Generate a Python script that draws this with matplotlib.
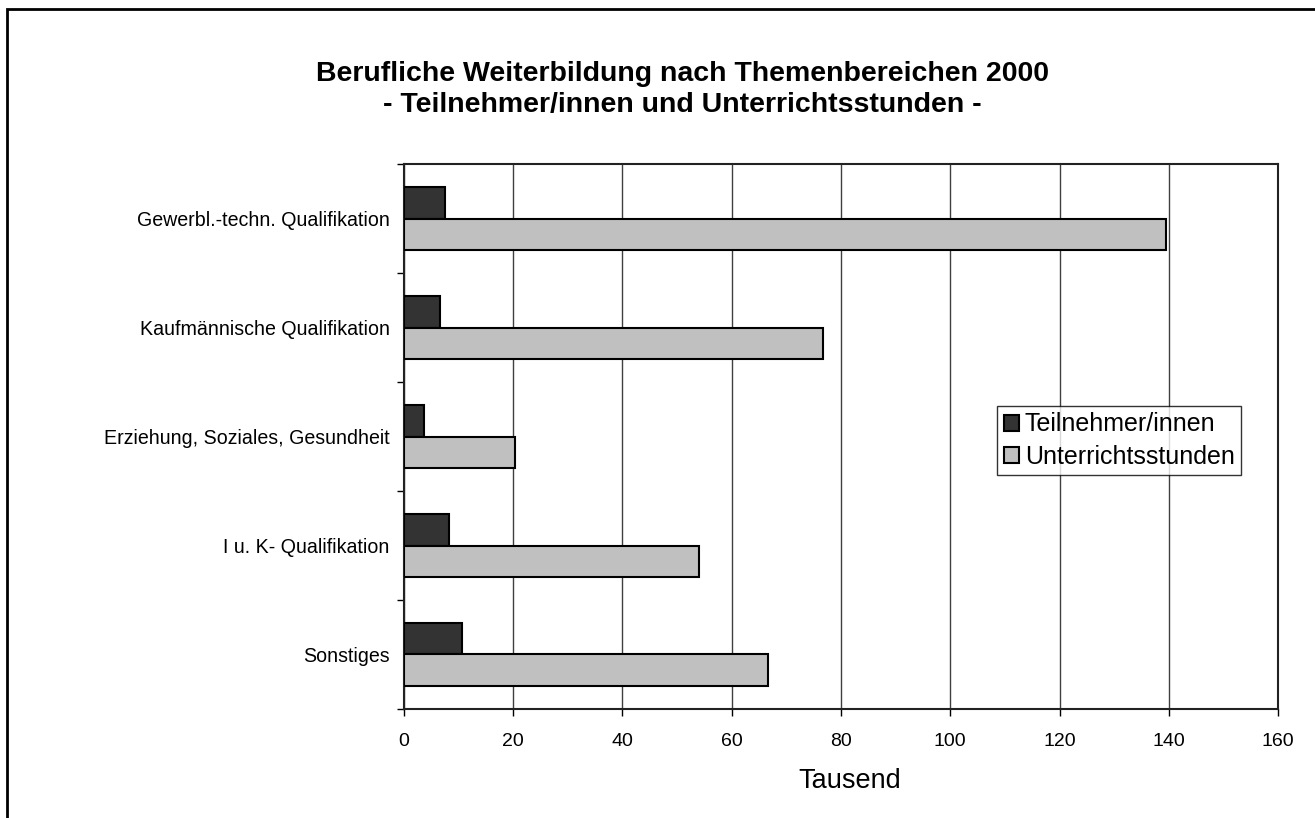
"""Berufliche Weiterbildung nach Themenbereichen 2000 - horizontal bar chart"""
import numpy as np
import matplotlib
matplotlib.use("Agg")
import matplotlib.pyplot as plt
from matplotlib.patches import Rectangle

plt.rcParams['font.family'] = ['Liberation Sans', 'DejaVu Sans']

# data (Tausend), top to bottom
categories = ["Gewerbl.-techn. Qualifikation", "Kaufmännische Qualifikation",
              "Erziehung, Soziales, Gesundheit", "I u. K- Qualifikation", "Sonstiges"]
teilnehmer = [7.5, 6.7, 3.8, 8.3, 10.6]
stunden = [139.5, 76.8, 20.4, 54.1, 66.7]
xticks = [0, 20, 40, 60, 80, 100, 120, 140, 160]

fig = plt.figure(figsize=(13.15, 8.18), dpi=100)
ax = fig.add_axes([0.307, 0.1333, 0.665, 0.666])

# outer frame of the figure
fig.patches.append(Rectangle((7 / 1315, -0.1), 1.2, 1 - 9 / 818 + 0.1, transform=fig.transFigure,
                             fill=False, edgecolor="black", linewidth=2))

y = np.arange(len(categories))
h = 0.29
ax.barh(y - h / 2, teilnehmer, height=h, color="#333333", edgecolor="black", linewidth=1.5,
        label="Teilnehmer/innen", zorder=3)
ax.barh(y + h / 2, stunden, height=h, color="#c0c0c0", edgecolor="black", linewidth=1.5,
        label="Unterrichtsstunden", zorder=3)

ax.set_xlim(0, 160)
ax.set_ylim(len(categories) - 0.5, -0.5)
ax.set_xticks(xticks)
ax.set_xticklabels([str(v) for v in xticks], fontsize=14)
ax.set_yticks(y)
ax.set_yticklabels(categories, fontsize=14.1)
ax.set_yticks(np.arange(-0.5, len(categories)), minor=True)
ax.tick_params(axis="y", which="major", length=0, pad=10)
ax.tick_params(axis="y", which="minor", length=5, width=1, direction="out")
ax.tick_params(axis="x", length=5, width=1, direction="out", pad=12)
ax.grid(True, axis="x", color="#404040", linewidth=1, zorder=0)
for s in ax.spines.values():
    s.set_linewidth(1.5)
    s.set_color("#222222")

ax.set_xlabel("Tausend", fontsize=19.5)
ax.xaxis.set_label_coords(0.51, -0.132, transform=ax.transAxes)
ax.xaxis.label.set_va("center")

fig.text(0.519, 0.909, "Berufliche Weiterbildung nach Themenbereichen 2000",
         ha="center", va="center", fontsize=20.5, fontweight="bold")
fig.text(0.519, 0.872, "- Teilnehmer/innen und Unterrichtsstunden -",
         ha="center", va="center", fontsize=20.5, fontweight="bold")

leg = ax.legend(loc="upper left", bbox_to_anchor=((998 - 404) / 875, (709 - 405) / 547),
                fontsize=18, frameon=True, fancybox=False, edgecolor="black",
                handlelength=0.6, handleheight=0.6, handletextpad=0.25,
                borderpad=0.25, labelspacing=0.35, borderaxespad=0)
leg.get_frame().set_linewidth(1)

fig.savefig("out.png", dpi=100, facecolor="white")
